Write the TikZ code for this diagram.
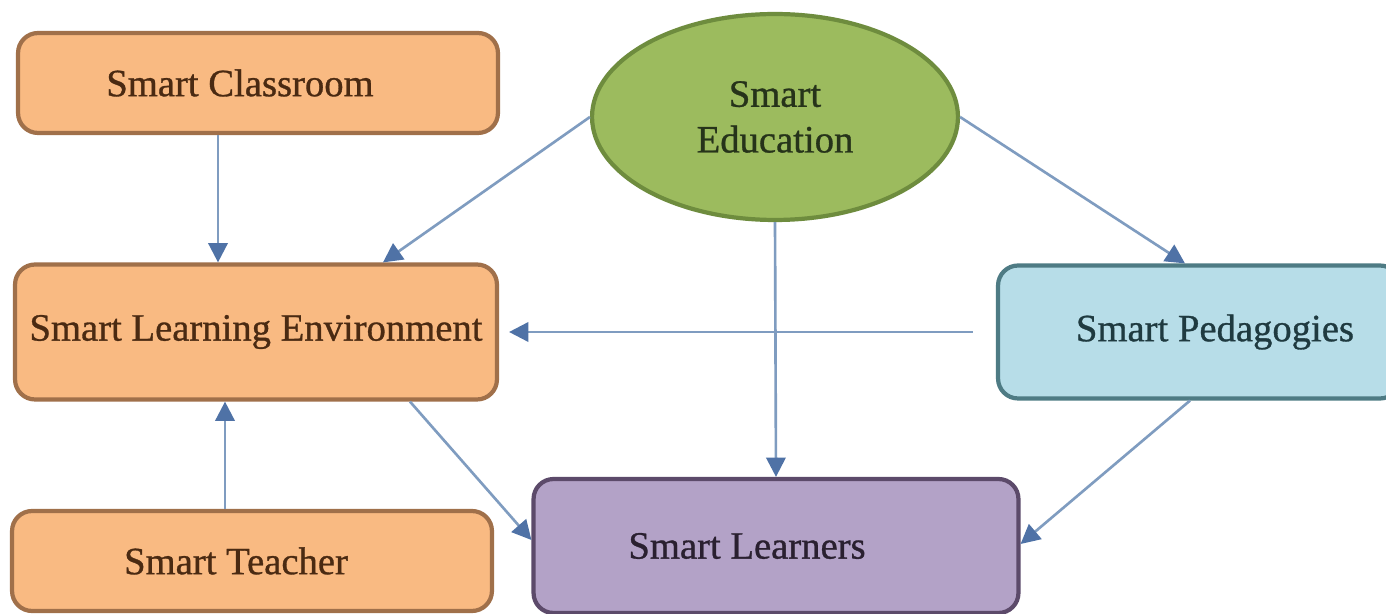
\documentclass[tikz,border=0pt]{standalone}
\usepackage{fontspec}
\setmainfont{Liberation Serif}
\newfontfamily\lblfont[FakeBold=0.8]{Liberation Serif}
\usetikzlibrary{arrows.meta,shapes.geometric}
\definecolor{orfill}{HTML}{F9BA82}
\definecolor{ordraw}{HTML}{A0704A}
\definecolor{ortext}{HTML}{4A2A12}
\definecolor{grfill}{HTML}{9CBB5E}
\definecolor{grdraw}{HTML}{6E8C3E}
\definecolor{grtext}{HTML}{26331A}
\definecolor{blfill}{HTML}{B7DDE8}
\definecolor{bldraw}{HTML}{4E7B84}
\definecolor{bltext}{HTML}{1F3A40}
\definecolor{pufill}{HTML}{B3A2C7}
\definecolor{pudraw}{HTML}{5C4A6A}
\definecolor{putext}{HTML}{2A2030}
\definecolor{arline}{HTML}{7F9CC0}
\definecolor{arhead}{HTML}{4F72A6}
\tikzset{
  box/.style={rectangle, rounded corners=0.4cm, line width=2.4pt, inner sep=0pt,
     font=\lblfont\fontsize{22}{26}\selectfont},
  orbox/.style={box, fill=orfill, draw=ordraw, text=ortext},
  arr/.style={draw=arline, line width=1.5pt,
     -{Triangle[length=11pt,width=11pt,color=arhead]}}
}
\begin{document}
\begin{tikzpicture}[x=0.02cm,y=-0.02cm]
\fill[white] (0,0) rectangle (1386,614);
\useasboundingbox (0,0) rectangle (1386,614);
\clip (0,0) rectangle (1386,614);
\node[orbox, minimum width=9.6cm, minimum height=2.0cm] (cls) at (258,83) {Smart Classroom\hspace*{0.72cm}};
\node[orbox, minimum width=9.64cm, minimum height=2.7cm] (sle) at (256,332) {Smart Learning Environment};
\node[orbox, minimum width=9.6cm, minimum height=2.0cm] (tch) at (252,561) {Smart Teacher\hspace*{0.64cm}};
\node[box, fill=pufill, draw=pudraw, text=putext, minimum width=9.7cm, minimum height=2.68cm] (lrn) at (776,546) {Smart Learners\hspace*{1.16cm}};
\node[box, fill=blfill, draw=bldraw, text=bltext, minimum width=8.04cm, minimum height=2.66cm] (ped) at (1199,332) {\hspace*{0.64cm}Smart Pedagogies};
\node[ellipse, fill=grfill, draw=grdraw, line width=2.4pt, text=grtext, inner sep=0pt,
      minimum width=7.32cm, minimum height=4.12cm, align=center,
      font=\lblfont\fontsize{22}{26}\selectfont] (edu) at (775,117) {Smart\\Education};
\draw[arr] ([xshift=-0.8cm]cls.south) -- ([xshift=-0.8cm]cls.south |- sle.north);
\draw[arr] (edu.west) -- ([xshift=2.54cm]sle.north);
\draw[arr] (edu.east) -- ([xshift=-0.28cm]ped.north);
\draw[arr, shorten <=0.46cm] (ped.west) -- ([xshift=0.2cm]sle.east);
\draw[arr] (edu.south) -- (lrn.north);
\draw[arr] ([xshift=3.08cm]sle.south) -- ([yshift=0.12cm]lrn.west);
\draw[arr] ([xshift=-0.18cm]ped.south) -- ([yshift=0.04cm]lrn.east);
\draw[arr] ([xshift=-0.54cm]tch.north) -- ([xshift=-0.54cm]tch.north |- sle.south);
\end{tikzpicture}
\end{document}
